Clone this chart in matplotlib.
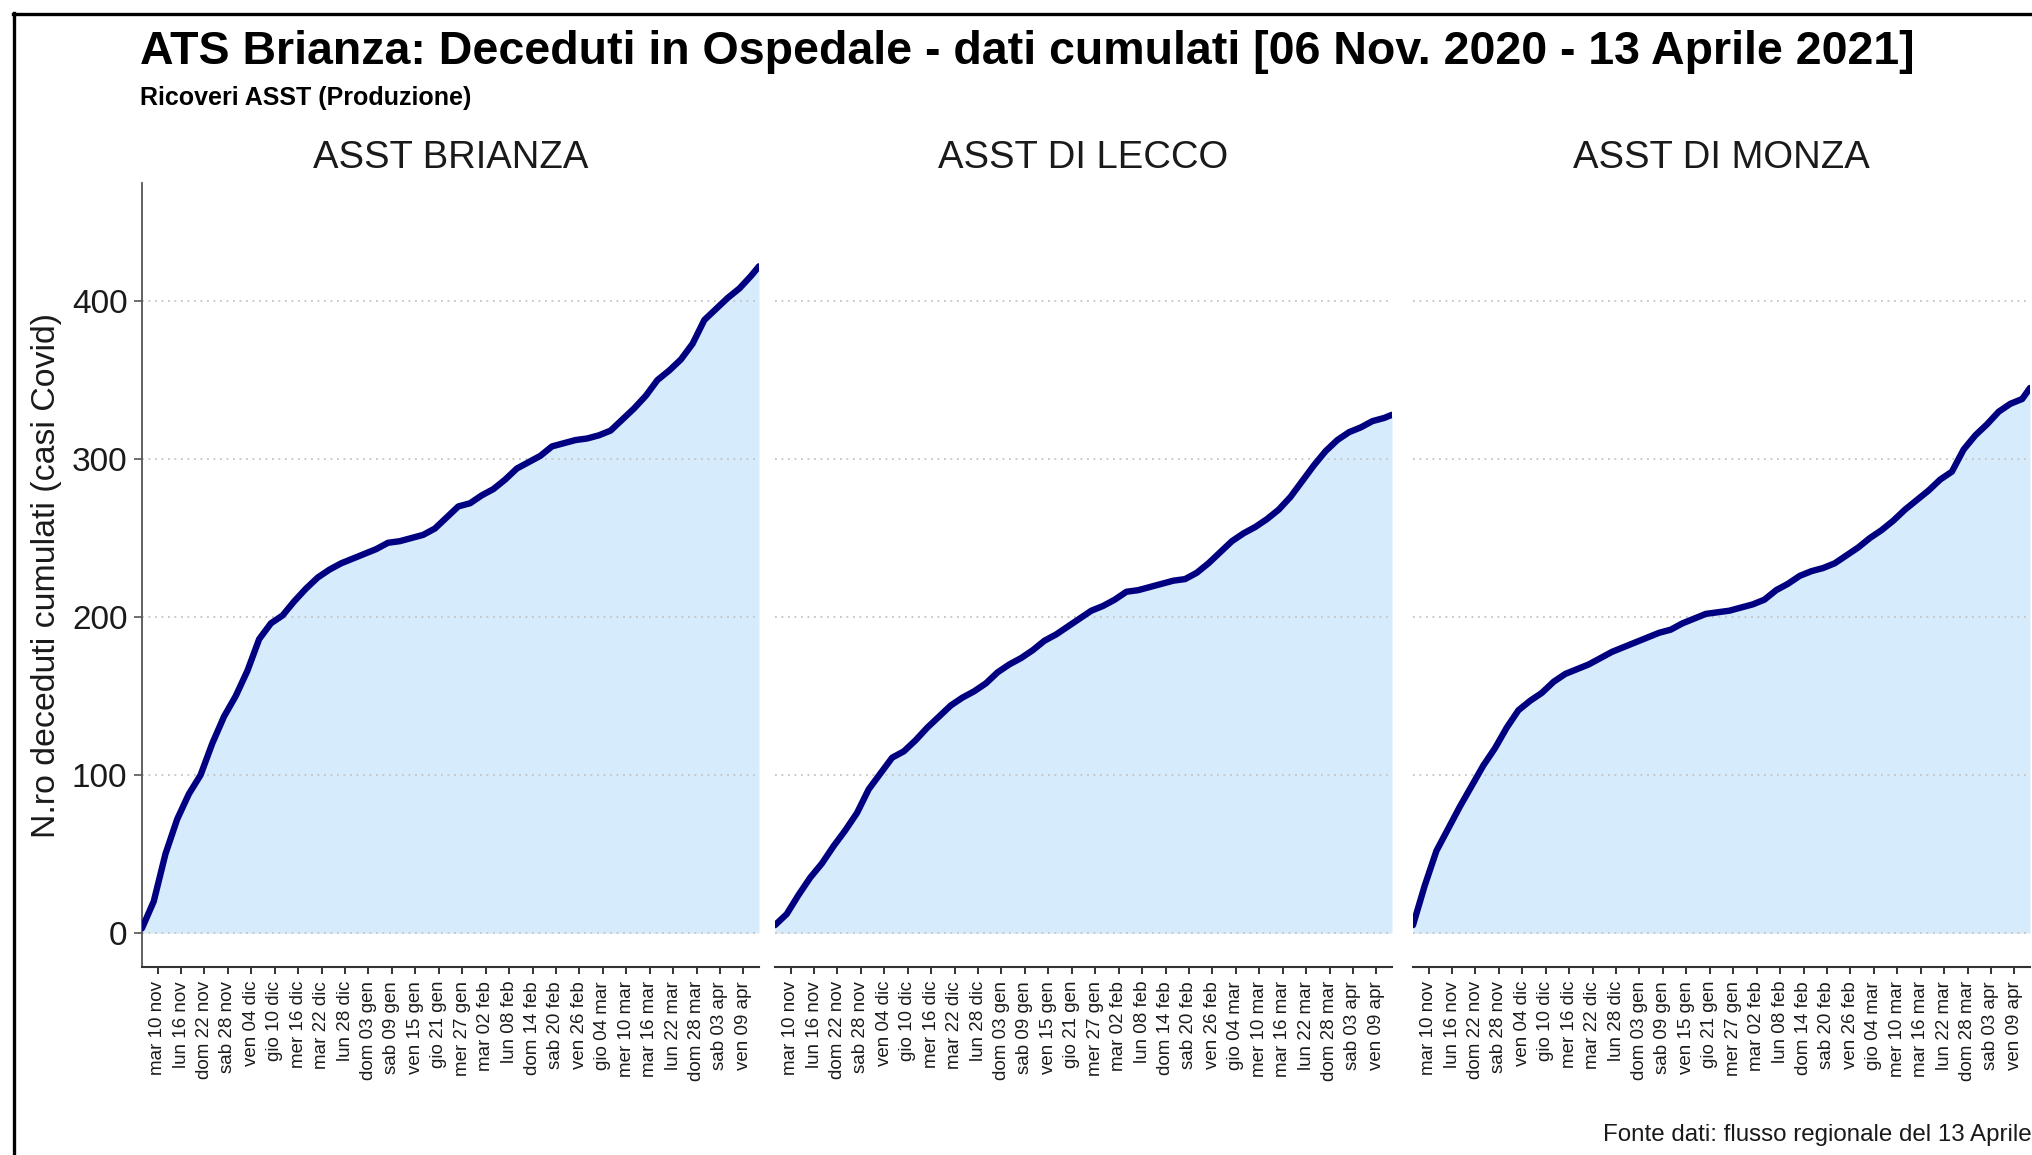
# ==========================
# ATS Brianza - deceduti in ospedale (cumulati)
# ==========================

import pandas as pd
import matplotlib
matplotlib.use("Agg")
import matplotlib.pyplot as plt
from matplotlib.lines import Line2D

plt.rcParams["font.family"] = ["Liberation Sans", "DejaVu Sans"]

# ==========================
# Data
# ==========================

start_date = pd.Timestamp("2020-11-06")

# days after 06 Nov 2020, one reading every 3 days, last one on 13 Apr 2021
sample_days = list(range(0, 157, 3)) + [158]

panel_titles = ["ASST BRIANZA", "ASST DI LECCO", "ASST DI MONZA"]

brianza = [3, 20, 50, 72, 88, 100, 120, 137, 150, 166, 186, 196, 201, 210, 218,
           225, 230, 234, 237, 240, 243, 247, 248, 250, 252, 256, 263, 270, 272,
           277, 281, 287, 294, 298, 302, 308, 310, 312, 313, 315, 318, 325, 332,
           340, 350, 356, 363, 373, 388, 395, 402, 408, 416, 422]

lecco = [5, 12, 24, 35, 44, 55, 65, 76, 91, 101, 111, 115, 122, 130, 137, 144,
         149, 153, 158, 165, 170, 174, 179, 185, 189, 194, 199, 204, 207, 211,
         216, 217, 219, 221, 223, 224, 228, 234, 241, 248, 253, 257, 262, 268,
         276, 286, 296, 305, 312, 317, 320, 324, 326, 328]

monza = [5, 30, 52, 66, 80, 93, 106, 117, 130, 141, 147, 152, 159, 164, 167,
         170, 174, 178, 181, 184, 187, 190, 192, 196, 199, 202, 203, 204, 206,
         208, 211, 217, 221, 226, 229, 231, 234, 239, 244, 250, 255, 261, 268,
         274, 280, 287, 292, 306, 315, 322, 330, 335, 338, 345]

series = [brianza, lecco, monza]

x_tick_labels = ["mar 10 nov", "lun 16 nov", "dom 22 nov", "sab 28 nov",
                 "ven 04 dic", "gio 10 dic", "mer 16 dic", "mar 22 dic",
                 "lun 28 dic", "dom 03 gen", "sab 09 gen", "ven 15 gen",
                 "gio 21 gen", "mer 27 gen", "mar 02 feb", "lun 08 feb",
                 "dom 14 feb", "sab 20 feb", "ven 26 feb", "gio 04 mar",
                 "mer 10 mar", "mar 16 mar", "lun 22 mar", "dom 28 mar",
                 "sab 03 apr", "ven 09 apr"]
x_tick_dates = pd.date_range("2020-11-10", "2021-04-09", freq="6D")

y_ticks = [0, 100, 200, 300, 400]

# ==========================
# Figure layout (pixels)
# ==========================

W, H = 2033, 1155
fig = plt.figure(figsize=(W / 100, H / 100), dpi=100)


def fx(px):
    return px / W


def fy(py):
    return 1 - py / H


line_color = "#000080"
fill_color = "#d6ebfb"
grid_color = "#c4c4c4"
axis_color = "#333333"

panel_left = [142, 775, 1413]
panel_width = 617
panel_top, panel_bottom = 183, 967

x_vals = sample_days
tick_pos = [(d - start_date).days for d in x_tick_dates]

for i, (left, title, vals) in enumerate(zip(panel_left, panel_titles, series)):
    ax = fig.add_axes([fx(left), fy(panel_bottom), panel_width / W,
                       (panel_bottom - panel_top) / H])
    ax.fill_between(x_vals, 0, vals, color=fill_color, lw=0, zorder=1)
    for yt in y_ticks:
        ax.axhline(yt, color=grid_color, lw=1.3, ls=(0, (1, 2.6)), zorder=2)
    ax.plot(x_vals, vals, color=line_color, lw=4.6, zorder=3,
            solid_joinstyle="round", solid_capstyle="round")

    ax.set_xlim(0, 158)
    ax.set_ylim(-21.5, 474.7)

    ax.set_xticks(tick_pos)
    ax.set_xticklabels(x_tick_labels, rotation=90, fontsize=13.5, va="top",
                       ha="center", color="#1a1a1a")
    ax.tick_params(axis="x", length=5, width=1.4, color=axis_color, pad=5)

    for s in ["top", "right"]:
        ax.spines[s].set_visible(False)
    ax.spines["bottom"].set_color(axis_color)
    ax.spines["bottom"].set_linewidth(1.5)

    if i == 0:
        ax.set_yticks(y_ticks)
        ax.set_yticklabels([str(v) for v in y_ticks], fontsize=24, color="#1a1a1a")
        ax.tick_params(axis="y", length=5.5, width=1.2, color="#555555", pad=5)
        ax.spines["left"].set_color("#555555")
        ax.spines["left"].set_linewidth(1.3)
    else:
        ax.set_yticks([])
        ax.spines["left"].set_visible(False)

    fig.text(fx(left + panel_width / 2), fy(168), title, fontsize=27.5,
             ha="center", va="baseline", color="#1a1a1a")

# ==========================
# Titles and notes
# ==========================

fig.text(fx(140), fy(64),
         "ATS Brianza: Deceduti in Ospedale - dati cumulati [06 Nov. 2020 - 13 Aprile 2021]",
         fontsize=33.5, fontweight="bold", ha="left", va="baseline")
fig.text(fx(140), fy(105), "Ricoveri ASST (Produzione)", fontsize=18,
         fontweight="bold", ha="left", va="baseline")
fig.text(fx(47), fy((panel_top + panel_bottom) / 2),
         "N.ro deceduti cumulati (casi Covid)", fontsize=24.4, rotation=90,
         ha="center", va="center", color="#1a1a1a")
fig.text(fx(2032), fy(1141), "Fonte dati: flusso regionale del 13 Aprile",
         fontsize=17.4, ha="right", va="baseline", color="#1a1a1a")

# frame round the picture (cut on the right and at the bottom)
fig.add_artist(Line2D([fx(14), fx(14)], [fy(13), fy(H + 20)], color="black",
                      lw=2.4, transform=fig.transFigure))
fig.add_artist(Line2D([fx(13), fx(W + 20)], [fy(14), fy(14)], color="black",
                      lw=2.4, transform=fig.transFigure))

fig.savefig("out.png", dpi=100)
